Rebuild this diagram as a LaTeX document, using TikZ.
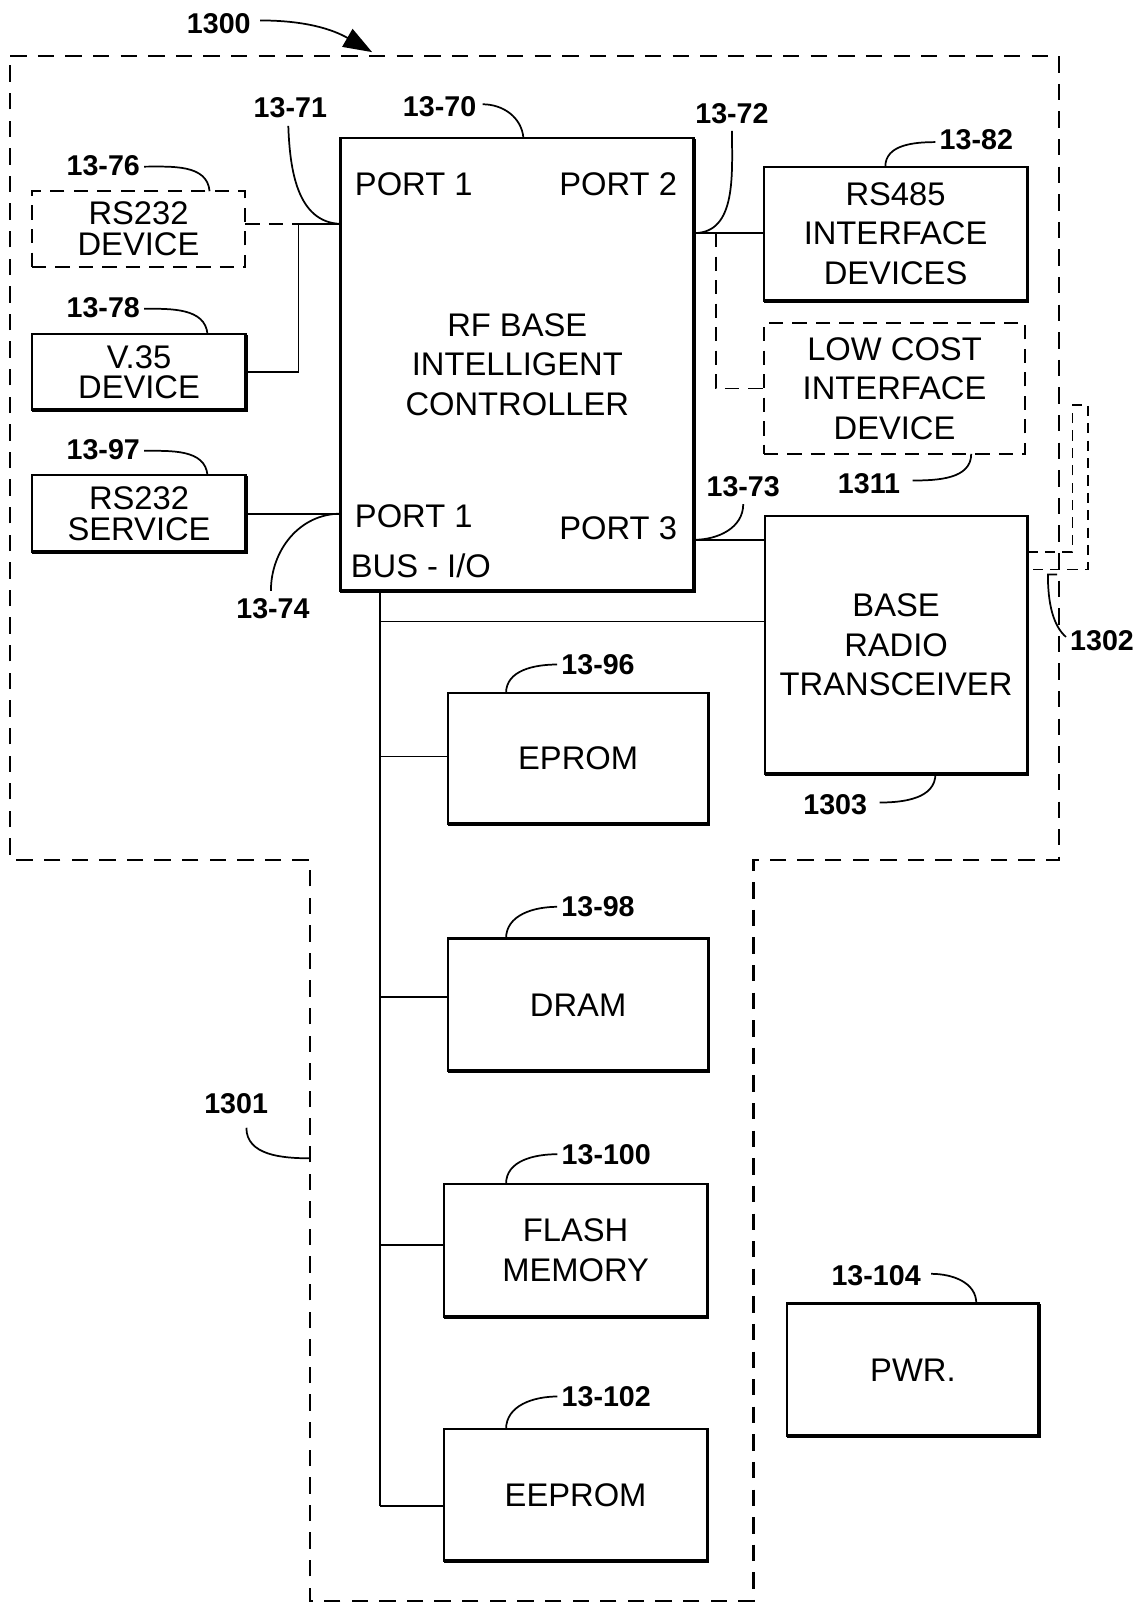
\documentclass[tikz,border=0pt]{standalone}
\usepackage{fontspec}
\setmainfont{Liberation Sans}
\usetikzlibrary{arrows.meta}
\begin{document}
\begin{tikzpicture}[x=1pt,y=-1pt,
  box/.style={draw, line width=2.1pt, inner sep=0pt, outer sep=0pt, anchor=north west, align=center, font=\fontsize{32}{38.5}\selectfont},
  sbox/.style={box, font=\fontsize{32}{30}\selectfont},
  dashedbox/.style={dash pattern=on 14pt off 9pt},
  heavy/.style={line width=3.8pt},
  lbl/.style={font=\fontsize{28}{30}\selectfont\bfseries, inner sep=0pt},
  txt/.style={font=\fontsize{32}{36}\selectfont, inner sep=0pt, anchor=west},
  wire/.style={line width=1.8pt},
  dwire/.style={line width=1.8pt, dash pattern=on 14pt off 9pt},
  awire/.style={line width=1.8pt, dash pattern=on 10pt off 7pt},
  lead/.style={line width=1.7pt},
  bound/.style={line width=2.2pt, dash pattern=on 16pt off 11pt}]
\useasboundingbox (0,0) rectangle (1121,1568);

% outer boundary
\draw[bound] (10,55) -- (1036,55) -- (1036,841) -- (737,841) -- (737,1566) -- (303,1566) -- (303,841) -- (10,841) -- cycle;

% boxes
\node[sbox, dashedbox, minimum width=209pt, minimum height=74pt] (rs232d) at (31,187) {RS232\\DEVICE};
\node[sbox, minimum width=210pt, minimum height=74pt] (v35) at (31,327) {V.35\\DEVICE};
\node[sbox, minimum width=210pt, minimum height=75pt] (rs232s) at (31,465) {RS232\\SERVICE};
\node[box, minimum width=346pt, minimum height=443pt] (ctrl) at (333,135) {RF BASE\\INTELLIGENT\\CONTROLLER};
\node[box, minimum width=258pt, minimum height=131pt] (rs485) at (747,163) {RS485\\INTERFACE\\DEVICES};
\node[box, dashedbox, minimum width=256pt, minimum height=128pt] (lowcost) at (747,316) {LOW COST\\INTERFACE\\DEVICE};
\node[box, minimum width=257pt, minimum height=252pt] (radio) at (748,505) {BASE\\RADIO\\TRANSCEIVER};
\node[box, minimum width=255pt, minimum height=128pt] (eprom) at (438,678) {EPROM};
\node[box, minimum width=255pt, minimum height=130pt] (dram) at (438,918) {DRAM};
\node[box, minimum width=258pt, minimum height=130pt] (flash) at (434,1158) {FLASH\\MEMORY};
\node[box, minimum width=258pt, minimum height=129pt] (eeprom) at (434,1398) {EEPROM};
\node[box, minimum width=246pt, minimum height=130pt] (pwr) at (770,1275) {PWR.};

\foreach \n in {v35,rs232s,ctrl,rs485,radio,eprom,dram,flash,eeprom,pwr}
  \draw[heavy] ([yshift=-1pt]\n.north east) -- (\n.south east) -- (\n.south west);

% port texts
\node[txt] (p1a) at (347,180) {PORT 1};
\node[txt] (p2) at (547,180) {PORT 2};
\node[txt] (p1b) at (347,505) {PORT 1};
\node[txt] (p3) at (547,517) {PORT 3};
\node[txt] (bus) at (343,553) {BUS - I/O};

% wires left
\coordinate (j1) at (292,219);
\draw[dwire] (j1 -| rs232d.east) -- (j1);
\draw[wire] (j1) -- (j1 -| ctrl.west);
\draw[wire] (j1) |- (v35.east);
\draw[wire] (rs232s.east) -- (rs232s.east -| ctrl.west);

% wires right
\coordinate (j2) at (700,228);
\coordinate (j3) at (700,528);
\draw[wire] (j2 -| ctrl.east) -- (j2 -| rs485.west);
\draw[dwire] (j2) |- (lowcost.west);
\draw[wire] (j3 -| ctrl.east) -- (j3 -| radio.west);

% bus
\coordinate (btop) at (372,578);
\coordinate (b0) at (372,608);
\coordinate (b1) at (372,740);
\coordinate (b2) at (372,975);
\coordinate (b3) at (372,1218);
\coordinate (b4) at (372,1473);
\draw[wire] (btop) -- (b4);
\draw[wire] (b0) -- (b0 -| radio.west);
\draw[wire] (b1) -- (b1 -| eprom.west);
\draw[wire] (b2) -- (b2 -| dram.west);
\draw[wire] (b3) -- (b3 -| flash.west);
\draw[wire] (b4) -- (b4 -| eeprom.west);

% antenna
\coordinate (ant1) at (1049,540);
\coordinate (ant2) at (1064,557);
\coordinate (ant3) at (1049,396);
\coordinate (ant4) at (1064,396);
\draw[awire] (ant1 -| radio.east) -- (ant1) -- (ant3) -- (ant4) -- (ant2) -- (ant2 -| radio.east);

% labels
\node[lbl] (l1300) at (214,23) {1300};
\node[lbl] (l71) at (284,105) {13-71};
\node[lbl] (l70) at (430,104) {13-70};
\node[lbl] (l72) at (716,111) {13-72};
\node[lbl] (l82) at (955,137) {13-82};
\node[lbl] (l76) at (101,162) {13-76};
\node[lbl] (l78) at (101,301) {13-78};
\node[lbl] (l97) at (101,440) {13-97};
\node[lbl] (l74) at (267,595) {13-74};
\node[lbl] (l1311) at (850,473) {1311};
\node[lbl] (l73) at (727,476) {13-73};
\node[lbl] (l1302) at (1078,627) {1302};
\node[lbl] (l1303) at (817,787) {1303};
\node[lbl] (l96) at (585,650) {13-96};
\node[lbl] (l98) at (585,887) {13-98};
\node[lbl] (l100) at (593,1129) {13-100};
\node[lbl] (l102) at (593,1366) {13-102};
\node[lbl] (l104) at (857,1248) {13-104};
\node[lbl] (l1301) at (231,1080) {1301};

% attach points
\coordinate (c70) at (512,135);
\coordinate (c76) at (205,187);
\coordinate (c78) at (203,327);
\coordinate (c97) at (203,465);
\coordinate (c82) at (866,163);
\coordinate (c1311) at (950,444);
\coordinate (c1303) at (915,757);
\coordinate (c96) at (495,678);
\coordinate (c98) at (495,918);
\coordinate (c100) at (495,1158);
\coordinate (c102) at (495,1398);
\coordinate (c104) at (955,1275);
\coordinate (c1301) at (303,1133);
\coordinate (c1300) at (364,51);

% leaders
\draw[lead, -{Triangle[length=28pt,width=20pt]}] ([xshift=9pt,yshift=3pt]l1300.east) to[out=0,in=150] (c1300);
\draw[lead] ([xshift=-2pt,yshift=-8pt]l71.south) to[out=-88,in=178] (j1 -| ctrl.west);
\draw[lead] ([xshift=6pt,yshift=2pt]l70.east) to[out=0,in=95] (c70);
\draw[lead] ([xshift=4pt,yshift=-1pt]l76.east) to[out=0,in=95] (c76);
\draw[lead] ([xshift=4pt,yshift=-1pt]l78.east) to[out=0,in=95] (c78);
\draw[lead] ([xshift=4pt,yshift=-1pt]l97.east) to[out=0,in=95] (c97);
\draw[lead] ([xshift=-2pt,yshift=7pt]l74.north) to[out=90,in=180] (rs232s.east -| ctrl.west);
\draw[lead] ([yshift=-7pt]l72.south) to[out=-90,in=0] (j2 -| ctrl.east);
\draw[lead] ([xshift=-4pt,yshift=-2pt]l82.west) to[out=180,in=90] (c82);
\draw[lead] ([xshift=12pt,yshift=3pt]l1311.east) to[out=0,in=-90] (c1311);
\draw[lead] ([yshift=-7pt]l73.south) to[out=-90,in=0] (j3 -| ctrl.east);
\draw[lead] ([xshift=-4pt,yshift=4pt]l1302.west) .. controls (1030,612) and (1025,590) .. (1025,562) -- (1034,562);
\draw[lead] ([xshift=12pt,yshift=2pt]l1303.east) to[out=0,in=-90] (c1303);
\draw[lead] ([xshift=-4pt]l96.west) to[out=180,in=90] (c96);
\draw[lead] ([xshift=-4pt]l98.west) to[out=180,in=90] (c98);
\draw[lead] ([xshift=-4pt]l100.west) to[out=180,in=90] (c100);
\draw[lead] ([xshift=-4pt]l102.west) to[out=180,in=90] (c102);
\draw[lead] ([xshift=10pt,yshift=2pt]l104.east) to[out=0,in=90] (c104);
\draw[lead] ([xshift=10pt,yshift=-13pt]l1301.south) to[out=-90,in=180] (c1301);
\end{tikzpicture}
\end{document}
